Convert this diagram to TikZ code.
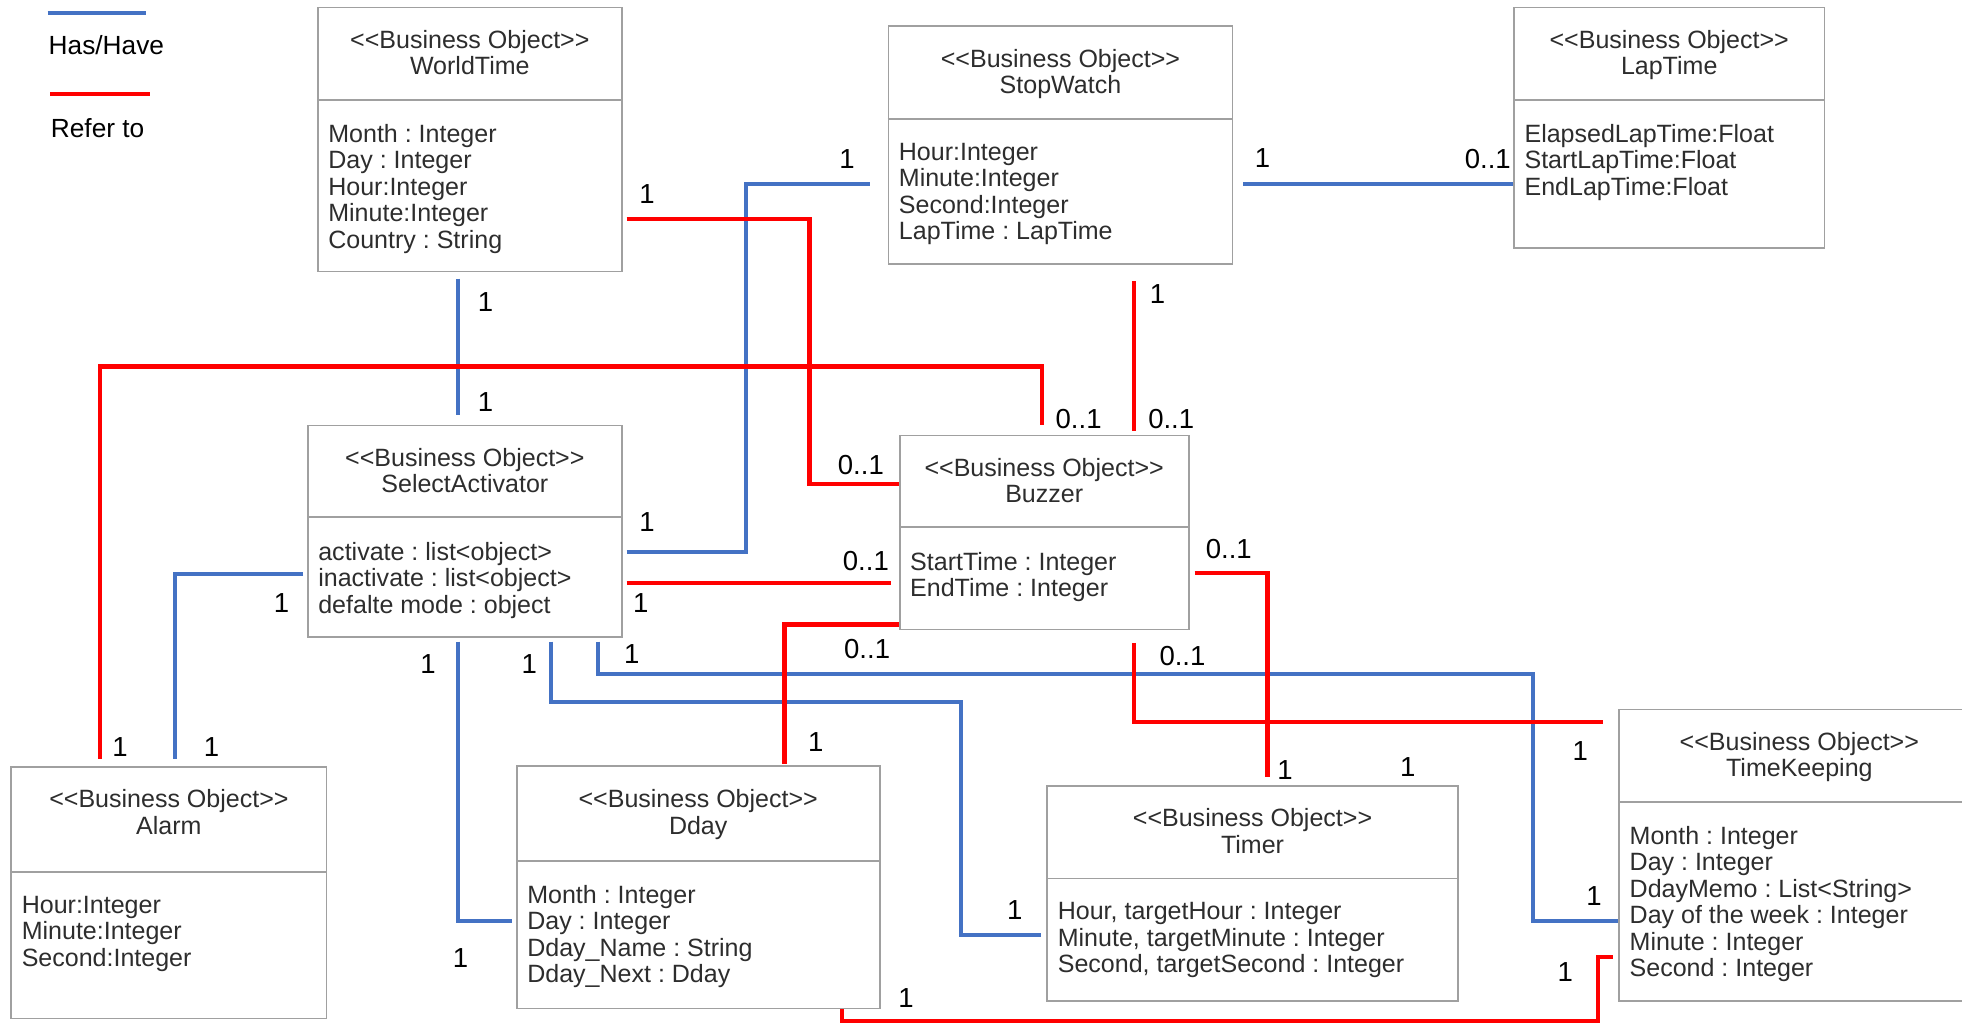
\documentclass[tikz,border=0pt]{standalone}
\usepackage{fontspec}
\setmainfont{Liberation Sans}
\usetikzlibrary{fit,calc}
\definecolor{hasblue}{RGB}{68,114,196}
\definecolor{refred}{RGB}{255,0,0}
\definecolor{boxgray}{RGB}{160,160,160}
\definecolor{txtgray}{RGB}{45,45,45}
\newcommand\bobj{<\kern0pt<Business Object>\kern0pt>}
\frenchspacing
\begin{document}
\begin{tikzpicture}[x=0.5pt,y=-0.5pt,
 umlbox/.style={draw=boxgray, line width=0.7pt, inner sep=0pt},
 divider/.style={draw=boxgray, line width=0.7pt},
 hdr/.style={anchor=north, align=center, inner sep=0pt, text=txtgray, font=\fontsize{10}{10.6}\selectfont},
 attr/.style={anchor=north west, align=left, inner sep=0pt, text=txtgray, font=\fontsize{10}{10.6}\selectfont},
 has/.style={draw=hasblue, line width=1.6pt},
 ref/.style={draw=refred, line width=1.7pt},
 mult/.style={font=\fontsize{11}{12}\selectfont, inner sep=0pt},
 legend/.style={font=\fontsize{10.5}{12}\selectfont, inner sep=0pt}]
\useasboundingbox (0,0) rectangle (1568,818);

% legend
\draw[has] (38,10) -- (117,10);
\node[legend] (lghas) at (85,36) {Has/Have};
\draw[ref] (40,75) -- (120,75);
\node[legend] (lgref) at (78,102) {Refer to};

% WorldTime
\node[umlbox, fit={(254,6)(497,217)}] (wt) {};
\draw[divider] (wt.west |- 0,80) -- (wt.east |- 0,80);
\node[hdr] (wth) at (375.5,23.8) {\bobj\\WorldTime};
\node[attr] (wta) at (262,98.8) {Month : Integer\\Day : Integer\\Hour:Integer\\Minute:Integer\\Country : String};

% StopWatch
\node[umlbox, fit={(710,21)(985,211)}] (sw) {};
\draw[divider] (sw.west |- 0,95) -- (sw.east |- 0,95);
\node[hdr] (swh) at (847.5,38.8) {\bobj\\StopWatch};
\node[attr] (swa) at (718,113.8) {Hour:Integer\\Minute:Integer\\Second:Integer\\LapTime : LapTime};

% LapTime
\node[umlbox, fit={(1210,6)(1458,198)}] (lt) {};
\draw[divider] (lt.west |- 0,80) -- (lt.east |- 0,80);
\node[hdr] (lth) at (1334,23.8) {\bobj\\LapTime};
\node[attr] (lta) at (1218,98.8) {ElapsedLapTime:Float\\StartLapTime:Float\\EndLapTime:Float};

% SelectActivator
\node[umlbox, fit={(246,340)(497,509)}] (sa) {};
\draw[divider] (sa.west |- 0,413) -- (sa.east |- 0,413);
\node[hdr] (sah) at (371.5,357.8) {\bobj\\SelectActivator};
\node[attr] (saa) at (254,432.8) {activate : list<object>\\inactivate : list<object>\\defalte mode : object};

% Buzzer
\node[umlbox, fit={(719,348)(950,503)}] (bz) {};
\draw[divider] (bz.west |- 0,421) -- (bz.east |- 0,421);
\node[hdr] (bzh) at (834.5,365.8) {\bobj\\Buzzer};
\node[attr] (bza) at (727,440.8) {StartTime : Integer\\EndTime : Integer};

% Alarm
\node[umlbox, fit={(9,613)(261,814)}] (al) {};
\draw[divider] (al.west |- 0,697) -- (al.east |- 0,697);
\node[hdr] (alh) at (135,630.8) {\bobj\\Alarm};
\node[attr] (ala) at (17,715.8) {Hour:Integer\\Minute:Integer\\Second:Integer};

% Dday
\node[umlbox, fit={(413,612)(703,806)}] (dd) {};
\draw[divider] (dd.west |- 0,688) -- (dd.east |- 0,688);
\node[hdr] (ddh) at (558,630.8) {\bobj\\Dday};
\node[attr] (dda) at (421,706.8) {Month : Integer\\Day : Integer\\Dday\_Name : String\\Dday\_Next : Dday};

% Timer
\node[umlbox, fit={(837,628)(1165,800)}] (tm) {};
\draw[divider] (tm.west |- 0,702) -- (tm.east |- 0,702);
\node[hdr] (tmh) at (1001,645.8) {\bobj\\Timer};
\node[attr] (tma) at (845,720.8) {Hour, targetHour : Integer\\Minute, targetMinute : Integer\\Second, targetSecond : Integer};

% TimeKeeping
\node[umlbox, fit={(1294,567)(1582,800)}] (tk) {};
\draw[divider] (tk.west |- 0,641) -- (tk.east |- 0,641);
\node[hdr] (tkh) at (1438,584.8) {\bobj\\TimeKeeping};
\node[attr] (tka) at (1302,659.8) {Month : Integer\\Day : Integer\\DdayMemo : List<String>\\Day of the week : Integer\\Minute : Integer\\Second : Integer};

% Has/Have connectors
\draw[has] ($(wt.south -| 366,0)+(0,5)$) -- ($(sa.north -| 366,0)+(0,-8)$);
\draw[has] ($(sa.east |- 0,441)+(3,0)$) -| (596,147) -- ($(sw.west |- 0,147)+(-14,0)$);
\draw[has] ($(sw.east |- 0,147)+(8,0)$) -- (lt.west |- 0,147);
\draw[has] ($(sa.west |- 0,459)+(-3,0)$) -| ($(al.north -| 140,0)+(0,-6)$);
\draw[has] ($(sa.south -| 366,0)+(0,3)$) |- ($(dd.west |- 0,736)+(-3,0)$);
\draw[has] ($(sa.south -| 440,0)+(0,3)$) |- (768,561) |- ($(tm.west |- 0,747)+(-4,0)$);
\draw[has] ($(sa.south -| 478,0)+(0,3)$) |- (1225,539) |- (tk.west |- 0,736);

% Refer-to connectors
\draw[ref] ($(wt.east |- 0,175)+(3,0)$) -| (647,387) -- (bz.west |- 0,387);
\draw[ref] ($(al.north -| 80,0)+(0,-6)$) |- (833,293) -- ($(bz.north -| 833,0)+(0,-8)$);
\draw[ref] ($(sw.south -| 906,0)+(0,13)$) -- ($(bz.north -| 906,0)+(0,-3)$);
\draw[ref] ($(sa.east |- 0,466)+(3,0)$) -- ($(bz.west |- 0,466)+(-6,0)$);
\draw[ref] (bz.west |- 0,499) -| ($(dd.north -| 627,0)+(0,-1)$);
\draw[ref] ($(bz.east |- 0,458)+(4,0)$) -| ($(tm.north -| 1013,0)+(0,-6)$);
\draw[ref] ($(bz.south -| 906,0)+(0,10)$) |- ($(tk.west |- 0,577)+(-12,0)$);
\draw[ref] (dd.south -| 673,0) |- (1277,816) |- ($(tk.west |- 0,765)+(-4,0)$);

% multiplicities
\node[mult] (m1) at (388,241) {1};
\node[mult] (m2) at (388,321) {1};
\node[mult] (m3) at (517,155) {1};
\node[mult] (m4) at (677,127) {1};
\node[mult] (m5) at (1009,126) {1};
\node[mult] (m6) at (1189,127) {0..1};
\node[mult] (m7) at (925,235) {1};
\node[mult] (m8) at (862,335) {0..1};
\node[mult] (m9) at (936,335) {0..1};
\node[mult] (m10) at (688,372) {0..1};
\node[mult] (m11) at (517,417) {1};
\node[mult] (m12) at (692,448) {0..1};
\node[mult] (m13) at (982,439) {0..1};
\node[mult] (m14) at (225,482) {1};
\node[mult] (m15) at (512,482) {1};
\node[mult] (m16) at (693,519) {0..1};
\node[mult] (m17) at (505,523) {1};
\node[mult] (m18) at (945,524) {0..1};
\node[mult] (m19) at (342,531) {1};
\node[mult] (m20) at (423,531) {1};
\node[mult] (m21) at (652,593) {1};
\node[mult] (m22) at (96,597) {1};
\node[mult] (m23) at (169,597) {1};
\node[mult] (m24) at (1263,600) {1};
\node[mult] (m25) at (1027,615) {1};
\node[mult] (m26) at (1125,613) {1};
\node[mult] (m27) at (1274,716) {1};
\node[mult] (m28) at (811,727) {1};
\node[mult] (m29) at (368,766) {1};
\node[mult] (m30) at (1251,777) {1};
\node[mult] (m31) at (724,798) {1};
\end{tikzpicture}
\end{document}
